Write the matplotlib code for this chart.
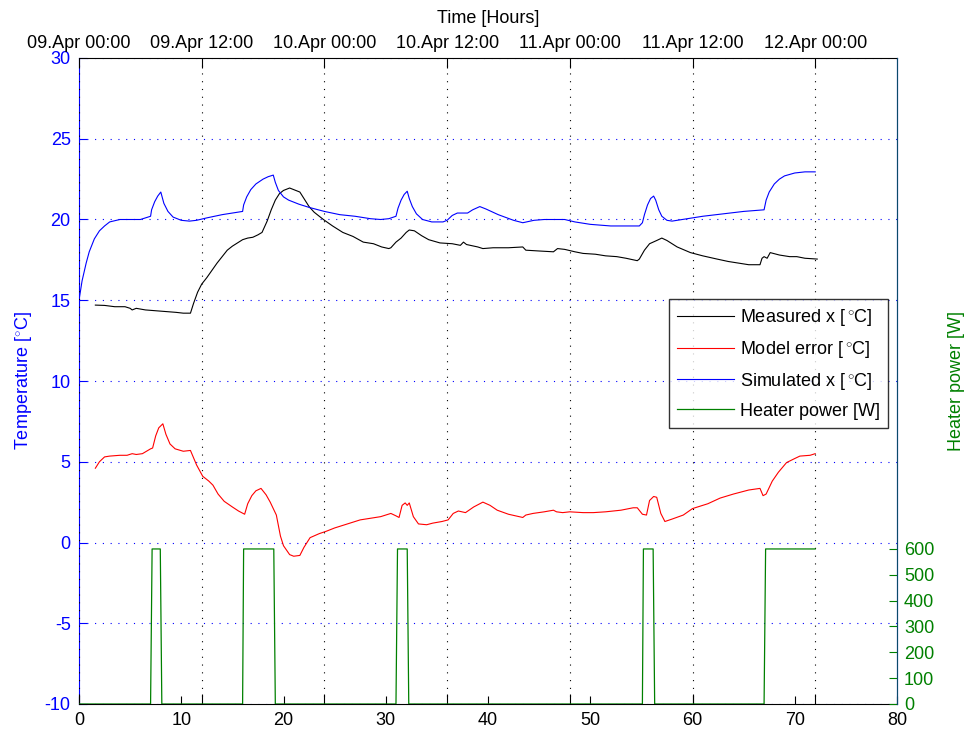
import matplotlib
matplotlib.use("Agg")
import matplotlib.pyplot as plt
from matplotlib.lines import Line2D

plt.rcParams['font.family'] = ['Liberation Sans', 'DejaVu Sans']
plt.rcParams['axes.unicode_minus'] = False
plt.rcParams['mathtext.fontset'] = 'custom'
plt.rcParams['mathtext.rm'] = 'Liberation Sans'

# ---- simulated room temperature [degC] ----
sim_t = [0, 0.3, 0.7, 1.0, 1.5, 2.0, 2.5, 3.0, 4.0, 5.0, 6.0, 7.0,
         7.1, 7.4, 7.7, 8.0, 8.3, 8.7, 9.2, 10.0, 10.8, 11.5, 12.5, 14.0, 15.0, 16.0,
         16.1, 16.4, 16.8, 17.3, 18.0, 18.5, 19.0, 19.2, 19.5, 20.0, 20.5, 21.5, 22.5,
         24.0, 25.5, 27.0, 28.5, 29.5, 30.3, 31.0, 31.2, 31.5, 31.8, 32.1, 32.3, 32.6,
         33.0, 33.6, 34.5, 35.6, 36.0, 36.5, 37.0, 38.0, 38.5, 39.2, 39.8, 41.0, 42.5,
         43.4, 44.5, 45.5, 47.5, 48.5, 50.0, 52.0, 54.8, 55.1, 55.3, 55.6, 55.9, 56.2,
         56.4, 56.7, 57.0, 57.5, 58.0, 59.0, 61.0, 63.0, 65.0, 67.0, 67.2, 67.5, 68.0,
         68.5, 69.0, 70.0, 71.0, 72.0]
sim_T = [15.0, 16.2, 17.3, 18.0, 18.8, 19.3, 19.6, 19.85, 20.0, 20.0, 20.0, 20.2,
         20.6, 21.1, 21.45, 21.7, 21.0, 20.5, 20.15, 19.95, 19.9, 19.95, 20.1, 20.3, 20.4, 20.5,
         20.9, 21.4, 21.85, 22.2, 22.5, 22.65, 22.75, 22.3, 21.8, 21.4, 21.2, 20.95, 20.75,
         20.5, 20.3, 20.2, 20.05, 20.0, 20.05, 20.2, 20.7, 21.2, 21.55, 21.75, 21.3, 20.8,
         20.35, 20.0, 19.85, 19.85, 19.95, 20.25, 20.4, 20.4, 20.6, 20.8, 20.65, 20.3, 19.95,
         19.8, 19.95, 20.0, 20.0, 19.85, 19.7, 19.6, 19.6, 19.8, 20.3, 20.9, 21.3, 21.45,
         21.2, 20.6, 20.2, 19.95, 19.9, 20.0, 20.2, 20.35, 20.5, 20.6, 21.2, 21.7, 22.2,
         22.5, 22.7, 22.88, 22.95, 22.95]

# ---- measured room temperature [degC] ----
meas_t = [1.6, 2.5, 3.5, 4.5, 5.0, 5.2, 5.6, 6.5, 7.5, 8.5, 9.5, 10.2, 10.9, 11.2,
          11.6, 12.0, 12.5, 13.0, 13.5, 14.0, 14.5, 15.0, 15.5, 16.0, 16.5, 17.0, 17.5,
          17.9, 18.4, 18.8, 19.2, 19.6, 20.0, 20.6, 21.0, 21.6, 22.0, 22.5, 23.0, 23.9,
          24.8, 25.8, 26.8, 27.8, 28.8, 29.6, 30.3, 30.5, 31.0, 31.5, 32.0, 32.3, 32.8,
          33.5, 34.2, 35.3, 36.5, 37.3, 37.6, 37.9, 39.0, 39.5, 40.5, 42.0, 43.4, 43.7,
          45.0, 46.4, 46.8, 47.5, 48.5, 49.3, 50.5, 51.5, 52.6, 53.5, 54.6, 54.8, 55.3,
          55.8, 56.5, 57.0, 57.5, 58.5, 59.8, 61.0, 62.4, 63.5, 64.5, 65.5, 66.6, 66.8,
          67.0, 67.3, 67.6, 68.5, 69.5, 70.2, 71.0, 72.2]
meas_T = [14.7, 14.68, 14.6, 14.6, 14.5, 14.4, 14.5, 14.4, 14.35, 14.3, 14.25, 14.2, 14.2, 14.8,
          15.5, 16.0, 16.4, 16.85, 17.3, 17.7, 18.1, 18.35, 18.55, 18.75, 18.85, 18.9, 19.05,
          19.2, 19.9, 20.6, 21.2, 21.6, 21.8, 21.95, 21.85, 21.7, 21.3, 20.8, 20.45, 20.0,
          19.6, 19.2, 18.95, 18.6, 18.5, 18.3, 18.2, 18.25, 18.6, 18.85, 19.2, 19.35, 19.3,
          19.0, 18.75, 18.55, 18.5, 18.4, 18.6, 18.45, 18.3, 18.2, 18.25, 18.25, 18.3, 18.1,
          18.05, 18.0, 18.2, 18.15, 18.0, 17.9, 17.85, 17.75, 17.7, 17.6, 17.45, 17.55, 18.1,
          18.5, 18.7, 18.85, 18.7, 18.3, 17.95, 17.75, 17.55, 17.4, 17.3, 17.2, 17.2, 17.6,
          17.7, 17.6, 17.95, 17.8, 17.7, 17.7, 17.6, 17.55]

# ---- model error [degC] ----
err_t = [1.6, 2.0, 2.5, 3.0, 4.0, 4.7, 5.2, 5.6, 6.2, 7.0, 7.2, 7.5, 7.8, 8.2, 8.5, 8.9,
         9.4, 10.2, 10.9, 11.5, 12.1, 12.7, 13.1, 13.6, 14.2, 15.0, 15.6, 16.2, 16.5, 16.9,
         17.3, 17.8, 18.3, 18.7, 19.3, 19.7, 20.0, 20.6, 21.0, 21.6, 22.0, 22.6, 23.5, 24.2,
         25.0, 26.0, 27.5, 28.5, 29.5, 30.5, 31.0, 31.3, 31.6, 31.9, 32.1, 32.3, 32.7, 33.2,
         34.0, 34.6, 35.5, 36.1, 36.6, 37.1, 37.8, 38.6, 39.5, 40.2, 40.9, 42.0, 43.4, 43.7,
         44.4, 45.5, 46.4, 46.7, 47.3, 48.0, 49.3, 50.3, 51.5, 53.0, 54.2, 54.6, 55.1, 55.5,
         55.8, 56.2, 56.5, 56.9, 57.3, 58.0, 59.1, 60.0, 61.5, 62.7, 64.0, 65.5, 66.6, 66.9,
         67.2, 67.8, 68.4, 69.2, 70.0, 70.5, 71.5, 72.0]
err_T = [4.6, 5.0, 5.3, 5.35, 5.4, 5.4, 5.5, 5.45, 5.5, 5.8, 5.85, 6.6, 7.1, 7.35, 6.7, 6.1,
         5.8, 5.65, 5.7, 4.8, 4.1, 3.8, 3.55, 3.0, 2.55, 2.2, 1.95, 1.75, 2.4, 2.9,
         3.2, 3.35, 2.95, 2.5, 1.7, 0.4, -0.2, -0.75, -0.85, -0.8, -0.3, 0.3, 0.55, 0.7,
         0.9, 1.1, 1.4, 1.5, 1.6, 1.8, 1.65, 1.55, 2.3, 2.45, 2.3, 2.45, 1.6, 1.15,
         1.1, 1.2, 1.3, 1.4, 1.8, 1.95, 1.85, 2.2, 2.5, 2.3, 2.0, 1.75, 1.55, 1.7,
         1.8, 1.9, 2.0, 1.9, 1.85, 1.9, 1.85, 1.85, 1.9, 2.0, 2.15, 2.15, 1.75, 1.7,
         2.6, 2.85, 2.8, 1.8, 1.3, 1.45, 1.7, 2.1, 2.4, 2.75, 3.0, 3.25, 3.35, 2.9,
         3.0, 3.8, 4.35, 4.95, 5.2, 5.35, 5.4, 5.5]

# ---- heater power [W] ----
heat_t = [0, 7.0, 7.15, 7.95, 8.1, 16.0, 16.1, 19.05, 19.2, 31.0, 31.15, 32.1, 32.25,
          55.1, 55.2, 56.15, 56.3, 67.0, 67.15, 72.0]
heat_P = [0, 0, 600, 600, 0, 0, 600, 600, 0, 0, 600, 600, 0,
          0, 600, 600, 0, 0, 600, 600]

# ---- calendar ticks on the upper axis ----
date_pos = [0, 12, 24, 36, 48, 60, 72]
date_labels = ['09.Apr 00:00', '09.Apr 12:00', '10.Apr 00:00', '10.Apr 12:00',
               '11.Apr 00:00', '11.Apr 12:00', '12.Apr 00:00']

BLUE = '#0000ff'
RED = '#ff0000'
GREEN = '#008000'
FS = 13

fig = plt.figure(figsize=(9.67, 7.35), dpi=100)
ax = fig.add_axes([79 / 967, 31 / 735, 818 / 967, 646 / 735])

dots = (0, (1, 6))

ax.plot(meas_t, meas_T, color='black', lw=0.8, zorder=3)
ax.plot(err_t, err_T, color=RED, lw=0.8, zorder=3)
ax.plot(sim_t, sim_T, color=BLUE, lw=0.8, zorder=3)

ax.set_xlim(0, 80)
ax.set_ylim(-10, 30)
ax.set_xticks(range(0, 81, 10))
ax.set_yticks(range(-10, 31, 5))
ax.yaxis.grid(True, color=BLUE, linestyle=dots, lw=0.8)
ax.tick_params(axis='x', direction='in', length=6, colors='black', labelsize=FS, pad=6,
               top=False)
ax.tick_params(axis='y', direction='in', length=6, colors=BLUE, labelsize=FS, pad=6,
               right=True)
ax.set_ylabel('Temperature [$^{\\circ}$C]', color=BLUE, fontsize=FS, labelpad=8)
ax.spines['left'].set_color(BLUE)
ax.spines['right'].set_color(BLUE)

# upper axis with calendar time
axt = ax.twiny()
axt.set_xlim(0, 80)
axt.set_xticks(date_pos)
axt.set_xticklabels(date_labels)
axt.xaxis.grid(True, color='black', linestyle=dots, lw=0.8)
axt.tick_params(axis='x', direction='in', length=7, labelsize=FS, pad=4, bottom=True)
axt.set_xlabel('Time [Hours]', fontsize=FS, labelpad=9)
for s in axt.spines.values():
    s.set_visible(False)

# heater power on the right
axh = ax.twinx()
axh.plot(heat_t, heat_P, color=GREEN, lw=0.9, zorder=3)
axh.set_ylim(0, 2500)
axh.set_yticks(range(0, 601, 100))
axh.tick_params(axis='y', direction='in', length=6, colors=GREEN, labelsize=FS, pad=5)
axh.set_ylabel('Heater power [W]', color=GREEN, fontsize=FS, labelpad=10)
for name, s in axh.spines.items():
    s.set_visible(name == 'right')
axh.spines['right'].set_color('#0a4a6a')

handles = [Line2D([], [], color='black', lw=0.8),
           Line2D([], [], color=RED, lw=0.8),
           Line2D([], [], color=BLUE, lw=0.8),
           Line2D([], [], color=GREEN, lw=0.9)]
labels = ['Measured x [$\\,^{\\circ}$C]', 'Model error [$\\,^{\\circ}$C]',
          'Simulated x [$\\,^{\\circ}$C]', 'Heater power [W]']
leg = axh.legend(handles, labels, loc='upper right', bbox_to_anchor=(0.989, 0.627),
                 fontsize=FS, frameon=True, fancybox=False, edgecolor='black',
                 borderaxespad=0, handlelength=3.2, handletextpad=0.3,
                 labelspacing=0.6, borderpad=0.45)
leg.get_frame().set_linewidth(1.0)

fig.savefig('out.png', dpi=100)
